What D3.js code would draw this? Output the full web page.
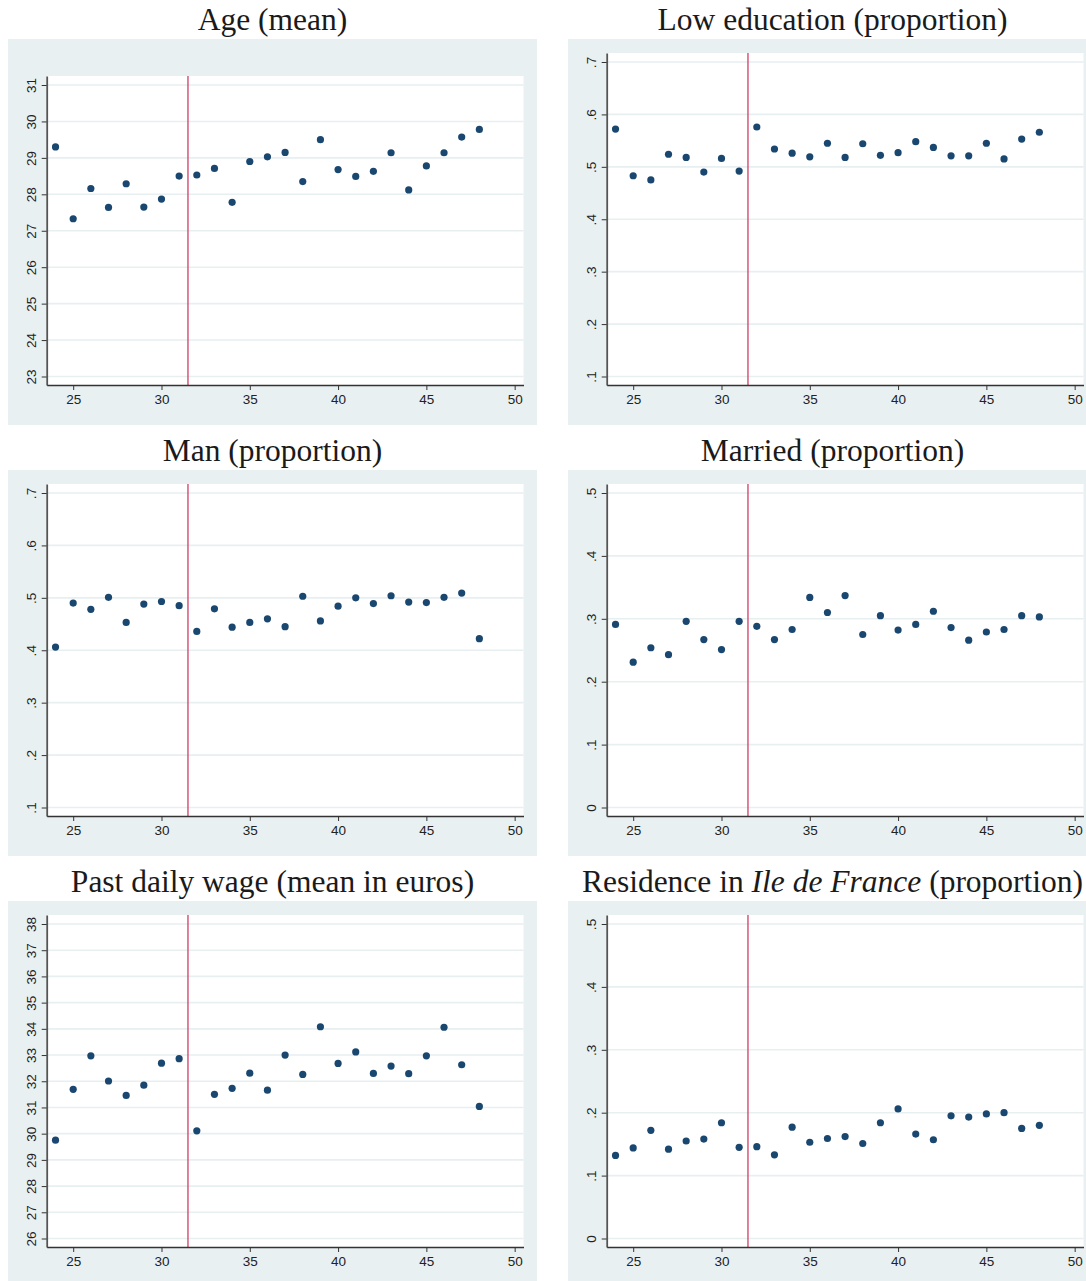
<!DOCTYPE html>
<html>
<head>
<meta charset="utf-8">
<script src="https://cdn.jsdelivr.net/npm/d3@7"></script>
<style>
  html, body { margin: 0; padding: 0; background: #fff; }
  svg { display: block; }
</style>
</head>
<body>
<svg id="chart" width="1086" height="1281"></svg>
<script>
// ── Data ────────────────────────────────────────────────────────────────────

const AGES = [24, 25, 26, 27, 28, 29, 30, 31, 32, 33, 34, 35, 36, 37, 38, 39, 40, 41, 42, 43, 44, 45, 46, 47, 48];

const AGE_MEAN = [29.30, 27.33, 28.16, 27.64, 28.29, 27.65, 27.87, 28.50, 28.53, 28.71, 27.78, 28.90, 29.03,
                  29.15, 28.35, 29.50, 28.68, 28.49, 28.63, 29.14, 28.12, 28.78, 29.14, 29.57, 29.78];

const LOW_EDU = [.572, .483, .475, .524, .518, .490, .516, .492, .576, .534, .526, .519, .545,
                 .518, .544, .522, .527, .548, .537, .521, .521, .545, .515, .553, .566];

const MAN = [.406, .490, .478, .501, .453, .488, .493, .485, .436, .479, .444, .453, .460,
             .445, .503, .456, .484, .500, .489, .504, .492, .491, .501, .509, .422];

const MARRIED = [.291, .231, .254, .243, .296, .267, .251, .296, .288, .267, .283, .334, .310,
                 .337, .275, .305, .282, .291, .312, .286, .266, .279, .283, .305, .303];

const WAGE = [29.75, 31.69, 32.97, 32.01, 31.46, 31.85, 32.69, 32.86, 30.11, 31.50, 31.73, 32.31, 31.66,
              33.00, 32.26, 34.08, 32.68, 33.12, 32.30, 32.58, 32.29, 32.97, 34.06, 32.63, 31.04];

const IDF = [.132, .144, .172, .142, .155, .158, .184, .145, .146, .133, .177, .153, .159,
             .162, .151, .184, .206, .166, .157, .195, .193, .198, .200, .175, .180];

const X_TICKS = [25, 30, 35, 40, 45, 50];
const AGE_TICKS = [23, 24, 25, 26, 27, 28, 29, 30, 31];
const PROP_TICKS_A = [.1, .2, .3, .4, .5, .6, .7];
const PROP_TICKS_B = [0, .1, .2, .3, .4, .5];
const WAGE_TICKS = [26, 27, 28, 29, 30, 31, 32, 33, 34, 35, 36, 37, 38];

const CUTOFF = 31.5;

// ── Styles ───────────────────────────────────────────────────────────────────

const BG = '#e9f0f2';
const GRID = '#e7eff1';
const DOT = '#1a476f';
const CUT = '#cf3f66';
const AXIS = '#333333';

const svg = d3.select('#chart');

const fmtProp = d => d === 0 ? '0' : d3.format('.1f')(d).replace(/^0/, '');
const fmtInt = d3.format('d');

const panels = [
  { title: [{ t: 'Age (mean)' }], values: AGE_MEAN, ticks: AGE_TICKS, fmt: fmtInt, short: true },
  { title: [{ t: 'Low education (proportion)' }], values: LOW_EDU, ticks: PROP_TICKS_A, fmt: fmtProp },
  { title: [{ t: 'Man (proportion)' }], values: MAN, ticks: PROP_TICKS_A, fmt: fmtProp },
  { title: [{ t: 'Married (proportion)' }], values: MARRIED, ticks: PROP_TICKS_B, fmt: fmtProp },
  { title: [{ t: 'Past daily wage (mean in euros)' }], values: WAGE, ticks: WAGE_TICKS, fmt: fmtInt },
  { title: [{ t: 'Residence in ' }, { t: 'Ile de France', it: true }, { t: ' (proportion)' }],
    values: IDF, ticks: PROP_TICKS_B, fmt: fmtProp },
];

// Panel geometry (relative to each cell)
const COL_DX = 560, ROW_DY = 431;
const BG_X = 8, BG_Y = 39, BG_W = 529, BG_H = 386;
const PL = 46.7, PR = 523.5, PB = 385;
const TICK_BOTTOM = 376.5;

function drawPanel(cfg, i) {
  const col = i % 2, row = Math.floor(i / 2);
  const g = svg.append('g').attr('transform', `translate(${col * COL_DX},${row * ROW_DY})`);

  const plotTop = cfg.short ? 76 : 53;
  const tickTop = cfg.short ? 85 : 62;

  // title
  const title = g.append('text')
    .attr('x', BG_X + BG_W / 2)
    .attr('y', 30)
    .attr('text-anchor', 'middle')
    .style('font-family', '"Liberation Serif", "Times New Roman", serif')
    .style('font-size', '31.5px')
    .style('fill', '#1a1a1a');
  cfg.title.forEach(p => {
    title.append('tspan').text(p.t).style('font-style', p.it ? 'italic' : 'normal');
  });

  // backgrounds
  g.append('rect').attr('x', BG_X).attr('y', BG_Y).attr('width', BG_W).attr('height', BG_H).attr('fill', BG);
  g.append('rect').attr('x', PL).attr('y', plotTop).attr('width', PR - PL).attr('height', PB - plotTop).attr('fill', '#fff');

  // scales
  const x = d3.scaleLinear().domain([23.5, 50.5]).range([PL, PR]);
  const yTicks = d3.scaleLinear()
    .domain([cfg.ticks[0], cfg.ticks[cfg.ticks.length - 1]])
    .range([TICK_BOTTOM, tickTop]);
  const y = d3.scaleLinear()
    .domain([yTicks.invert(PB), yTicks.invert(plotTop)])
    .range([PB, plotTop]);

  // gridlines
  g.append('g').selectAll('line')
    .data(cfg.ticks)
    .join('line')
    .attr('x1', PL).attr('x2', PR)
    .attr('y1', d => y(d)).attr('y2', d => y(d))
    .attr('stroke', GRID)
    .attr('stroke-width', 1.6);

  // cutoff line
  g.append('line')
    .attr('x1', x(CUTOFF)).attr('x2', x(CUTOFF))
    .attr('y1', plotTop).attr('y2', PB)
    .attr('stroke', CUT)
    .attr('stroke-width', 1.3);

  // points
  g.append('g').selectAll('circle')
    .data(AGES.map((a, k) => ({ a, v: cfg.values[k] })))
    .join('circle')
    .attr('cx', d => x(d.a))
    .attr('cy', d => y(d.v))
    .attr('r', 3.6)
    .attr('fill', DOT);

  // y axis
  const yAxisG = g.append('g')
    .attr('transform', `translate(${PL},0)`)
    .call(d3.axisLeft(y).tickValues(cfg.ticks).tickFormat(cfg.fmt).tickSize(5).tickSizeOuter(0));
  yAxisG.select('.domain').attr('stroke', '#555').attr('stroke-width', 1.8);
  yAxisG.selectAll('.tick line').attr('stroke', AXIS).attr('stroke-width', 1);
  yAxisG.selectAll('.tick text')
    .attr('x', 0).attr('y', 0).attr('dy', 0)
    .attr('text-anchor', 'middle')
    .attr('transform', 'translate(-10.7,0) rotate(-90)')
    .style('font-family', '"Liberation Sans", Arial, sans-serif')
    .style('font-size', '13.5px')
    .style('fill', '#222');

  // x axis
  const xAxisG = g.append('g')
    .attr('transform', `translate(0,${PB})`)
    .call(d3.axisBottom(x).tickValues(X_TICKS).tickFormat(fmtInt).tickSize(5).tickSizeOuter(0));
  xAxisG.select('.domain').attr('stroke', AXIS).attr('stroke-width', 1.3);
  xAxisG.selectAll('.tick line').attr('stroke', AXIS).attr('stroke-width', 1);
  xAxisG.selectAll('.tick text')
    .attr('y', 18.5).attr('dy', 0)
    .style('font-family', '"Liberation Sans", Arial, sans-serif')
    .style('font-size', '13.5px')
    .style('fill', '#222');
}

panels.forEach(drawPanel);
</script>
</body>
</html>
